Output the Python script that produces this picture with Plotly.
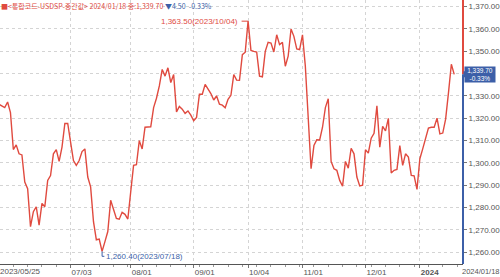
import plotly.graph_objects as go

# trading-day index positions and labels
tick_idx = [0, 25, 46, 68, 87, 106, 128, 147]
tick_lbl = ["2023/05/25", "07/03", "08/01", "09/01", "10/04", "11/01", "12/01", "<b>2024</b>"]

values = [
    1326.3, 1325.5, 1324.8, 1327.3, 1322.6, 1306.0, 1308.1, 1304.1, 1303.6, 1291.5,
    1288.5, 1271.5, 1278.2, 1280.4, 1272.2, 1281.9, 1280.4, 1292.2, 1294.4, 1304.1,
    1306.0, 1300.7, 1307.1, 1317.7, 1317.7, 1309.3, 1301.1, 1298.9, 1301.1, 1305.1,
    1306.3, 1293.7, 1289.3, 1273.7, 1265.6, 1265.9, 1260.4, 1264.8, 1269.3, 1283.3,
    1279.6, 1275.2, 1274.8, 1277.9, 1277.0, 1274.9, 1287.0, 1298.9, 1299.2, 1310.0,
    1306.3, 1316.0, 1316.1, 1316.2, 1324.8, 1329.0, 1334.5, 1341.9, 1338.9, 1342.6,
    1336.0, 1339.6, 1322.9, 1325.3, 1324.1, 1322.2, 1323.3, 1321.4, 1318.9, 1320.4,
    1330.8, 1330.8, 1335.2, 1333.0, 1331.1, 1328.2, 1330.0, 1326.3, 1325.9, 1324.7,
    1328.5, 1330.3, 1339.6, 1337.1, 1337.0, 1348.5, 1349.6, 1363.5, 1350.4, 1350.0,
    1349.7, 1338.9, 1338.6, 1350.0, 1354.0, 1353.7, 1349.7, 1357.4, 1353.0, 1354.0,
    1343.3, 1347.8, 1360.0, 1356.7, 1351.1, 1350.8, 1357.4, 1343.3, 1320.0, 1297.4,
    1307.8, 1310.4, 1310.3, 1316.0, 1324.8, 1328.8, 1300.7, 1297.4, 1296.7, 1292.2,
    1289.6, 1300.7, 1297.7, 1306.6, 1304.1, 1293.7, 1289.7, 1290.0, 1305.9, 1304.4,
    1311.1, 1313.3, 1325.6, 1307.1, 1316.4, 1314.4, 1320.0, 1295.5, 1296.7, 1297.1,
    1307.8, 1298.9, 1304.1, 1302.6, 1294.4, 1294.2, 1288.2, 1301.9, 1306.3, 1311.5,
    1315.6, 1316.0, 1316.0, 1320.1, 1313.0, 1313.4, 1319.6, 1331.5, 1344.2, 1339.7,
]
x_idx = list(range(len(values)))

y_ticks = [1260, 1270, 1280, 1290, 1300, 1310, 1320, 1330, 1340, 1350, 1360, 1370]

max_val, max_i, max_date = 1363.50, 87, "2023/10/04"
min_val, min_i, min_date = 1260.40, 36, "2023/07/18"
last_val, chg, pct, last_date = 1339.70, 4.50, -0.33, "2024/01/18"

# the 1,340 label sits under the current-price box, so it is left blank
y_lbl = ["" if v == 1340 else f"{v:,.2f}" for v in y_ticks]

RED = "#e04a3f"
BLUE = "#3c5fa8"
GRID = "#d4d4d4"
TXT = "#555555"
FONT = "Noto Sans CJK KR"
NUM = "Liberation Sans Narrow, Arial Narrow, Liberation Sans, sans-serif"
HDR = "Liberation Sans Narrow, Noto Sans CJK KR, sans-serif"

X0, X1 = 0.345, 162.07
Y0, Y1 = 1254.76, 1372.98

fig = go.Figure()
fig.add_trace(go.Scatter(x=x_idx, y=values, mode="lines",
                         line=dict(color=RED, width=1.4), hoverinfo="skip"))

fig.update_layout(
    width=500, height=277,
    margin=dict(l=0, r=31, t=0, b=11),
    paper_bgcolor="white", plot_bgcolor="white",
    showlegend=False,
    font=dict(family=FONT, size=9, color=TXT),
    xaxis=dict(
        range=[X0, X1], tickmode="array", tickvals=tick_idx[1:], ticktext=tick_lbl[1:],
        ticklabelposition="outside right", ticks="outside", ticklen=3, tickcolor="#777",
        showgrid=True, gridcolor=GRID, griddash="dot", gridwidth=1,
        showline=True, linecolor="#555", linewidth=1, zeroline=False,
        tickfont=dict(size=8, color=TXT, family=NUM),
        minor=dict(tickmode="linear", tick0=0, dtick=5, ticks="outside", ticklen=2,
                   tickcolor="#999", showgrid=False),
    ),
    yaxis=dict(
        side="right", range=[Y0, Y1], tickmode="array",
        tickvals=y_ticks, ticktext=y_lbl, ticks="outside", ticklen=3, tickcolor="#777",
        showgrid=True, gridcolor=GRID, griddash="dot", gridwidth=1,
        zeroline=False, showline=False, ticklabeloverflow="allow",
        tickfont=dict(size=8, color=TXT, family=NUM),
    ),
)

# first date label (its tick lies just left of the visible area)
fig.add_annotation(
    xref="paper", yref="paper", x=0, y=0, xanchor="left", yanchor="top",
    showarrow=False, text=tick_lbl[0], xshift=-2, yshift=-1,
    font=dict(size=8, color=TXT, family=NUM),
)

# right axis line: red above current price, blue below
fig.add_shape(type="line", xref="paper", yref="y", x0=1, x1=1,
              y0=last_val, y1=Y1, line=dict(color=RED, width=2))
fig.add_shape(type="line", xref="paper", yref="y", x0=1, x1=1,
              y0=Y0, y1=last_val, line=dict(color=BLUE, width=2))

# header: red part and blue part
fig.add_annotation(
    xref="paper", yref="paper", x=0, y=1, xanchor="left", yanchor="top", showarrow=False,
    text=f"■&lt;통합코드-USDSP-중간값&gt; {last_date} 종:{last_val:,.2f}",
    font=dict(size=7, family=HDR, color=RED), yshift=1, xshift=-1,
)
fig.add_annotation(
    xref="paper", yref="paper", x=165 / 469, y=1, xanchor="left", yanchor="top", showarrow=False,
    text=f"▼{chg:.2f}  {pct:.2f}%",
    font=dict(size=7, family=HDR, color=BLUE), yshift=1,
)

# max annotation
fig.add_annotation(
    x=max_i, y=max_val, xref="x", yref="y", ax=-8, ay=0, axref="pixel", ayref="pixel",
    showarrow=True, arrowhead=0, arrowcolor=RED, arrowwidth=1,
    text="", standoff=0,
)
fig.add_annotation(
    x=max_i, y=max_val, xref="x", yref="y", xanchor="right", yanchor="middle",
    showarrow=False, xshift=-8, text=f"{max_val:,.2f}({max_date})",
    font=dict(size=8, color=RED, family=NUM),
)

# min annotation
fig.add_shape(type="path", xref="x", yref="y",
              path=f"M {min_i},{min_val} L {min_i},{min_val - 2.2} L {min_i + 0.8},{min_val - 2.2}",
              line=dict(color=BLUE, width=1))
fig.add_annotation(
    x=min_i + 0.8, y=min_val - 2.2, xref="x", yref="y", xanchor="left", yanchor="middle",
    showarrow=False, text=f"{min_val:,.2f}({min_date})",
    font=dict(size=8, color=BLUE, family=NUM),
)

# current price box with a small pointer on its left
fig.add_annotation(
    xref="paper", yref="y", x=1, y=last_val, ax=-4, ay=0, axref="pixel", ayref="pixel",
    showarrow=True, arrowhead=0, arrowwidth=6, arrowcolor=BLUE, text="", standoff=0,
    xshift=3,
)
fig.add_annotation(
    xref="paper", yref="y", x=1, y=last_val, xanchor="left", yanchor="middle",
    showarrow=False, text=f"{last_val:,.2f}<br>{pct:.2f}%", align="center",
    bgcolor=BLUE, font=dict(size=6.5, color="white", family=NUM), borderpad=0,
    width=30, height=15, xshift=1,
)

# last date label
fig.add_annotation(
    xref="paper", yref="paper", x=1, y=0, xanchor="left", yanchor="top",
    showarrow=False, text=last_date, xshift=-3, yshift=-1,
    font=dict(size=7.5, color=TXT, family=NUM),
)

fig.write_html("out.html")
